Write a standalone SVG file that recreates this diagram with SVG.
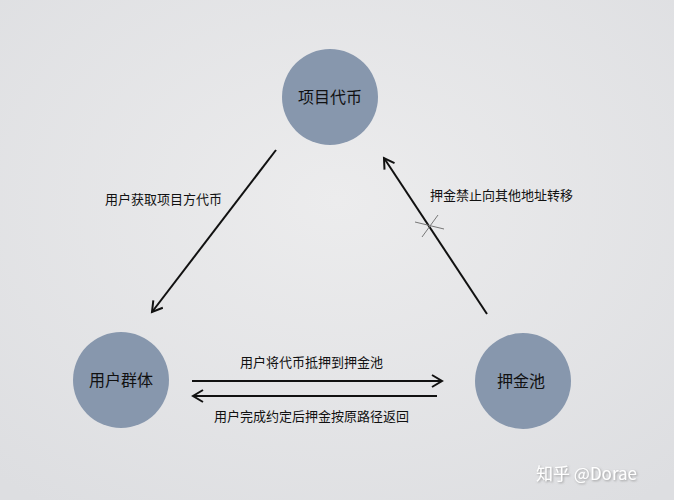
<svg xmlns="http://www.w3.org/2000/svg" width="674" height="500" viewBox="0 0 674 500">
<defs>
<radialGradient id="bg" cx="0.5" cy="0.4" r="0.75">
<stop offset="0" stop-color="#ececed"/>
<stop offset="1" stop-color="#dddee1"/>
</radialGradient>
<marker id="ah" markerWidth="14" markerHeight="14" refX="11" refY="7" orient="auto" markerUnits="userSpaceOnUse">
<path d="M1,1 L11,7 L1,13" fill="none" stroke="#111" stroke-width="2"/>
</marker>
<filter id="sh" x="-10%" y="-30%" width="120%" height="160%">
<feDropShadow dx="1" dy="1" stdDeviation="0.8" flood-color="#888" flood-opacity="0.8"/>
</filter>
</defs>
<style>
.node{fill:#8797ad;}
.nl{font-family:"Liberation Sans","Noto Sans CJK SC",sans-serif;font-size:16px;fill:#111;text-anchor:middle;dominant-baseline:central;}
.el{font-family:"Liberation Sans","Noto Sans CJK SC",sans-serif;font-size:13px;fill:#111;dominant-baseline:central;}
.edge{stroke:#111;stroke-width:2;fill:none;marker-end:url(#ah);}
</style>
<rect width="674" height="500" fill="url(#bg)"/>
<g id="node-token">
<circle class="node" cx="330" cy="97" r="48"/>
<text class="nl" x="330" y="97">项目代币</text>
</g>
<g id="node-users">
<circle class="node" cx="121" cy="380" r="48"/>
<text class="nl" x="121" y="380">用户群体</text>
</g>
<g id="node-pool">
<circle class="node" cx="523" cy="381" r="48"/>
<text class="nl" x="521" y="381">押金池</text>
</g>
<g id="connectors">
<line class="edge" x1="276" y1="150" x2="152" y2="312"/>
<line class="edge" x1="487" y1="314" x2="384" y2="158"/>
<line x1="415" y1="222" x2="444" y2="229" stroke="#777" stroke-width="1"/>
<line x1="422" y1="237" x2="438" y2="215" stroke="#777" stroke-width="1"/>
<line class="edge" x1="192" y1="381" x2="442" y2="381"/>
<line class="edge" x1="437" y1="396" x2="193" y2="396"/>
<text class="el" x="105" y="199">用户获取项目方代币</text>
<text class="el" x="430" y="195">押金禁止向其他地址转移</text>
<text class="el" x="240" y="362">用户将代币抵押到押金池</text>
<text class="el" x="214" y="416">用户完成约定后押金按原路径返回</text>
</g>
<text x="536" y="472" font-family="'Noto Sans CJK SC',sans-serif" font-size="17" fill="#fff" dominant-baseline="central" filter="url(#sh)">知乎 @Dorae</text>
</svg>
